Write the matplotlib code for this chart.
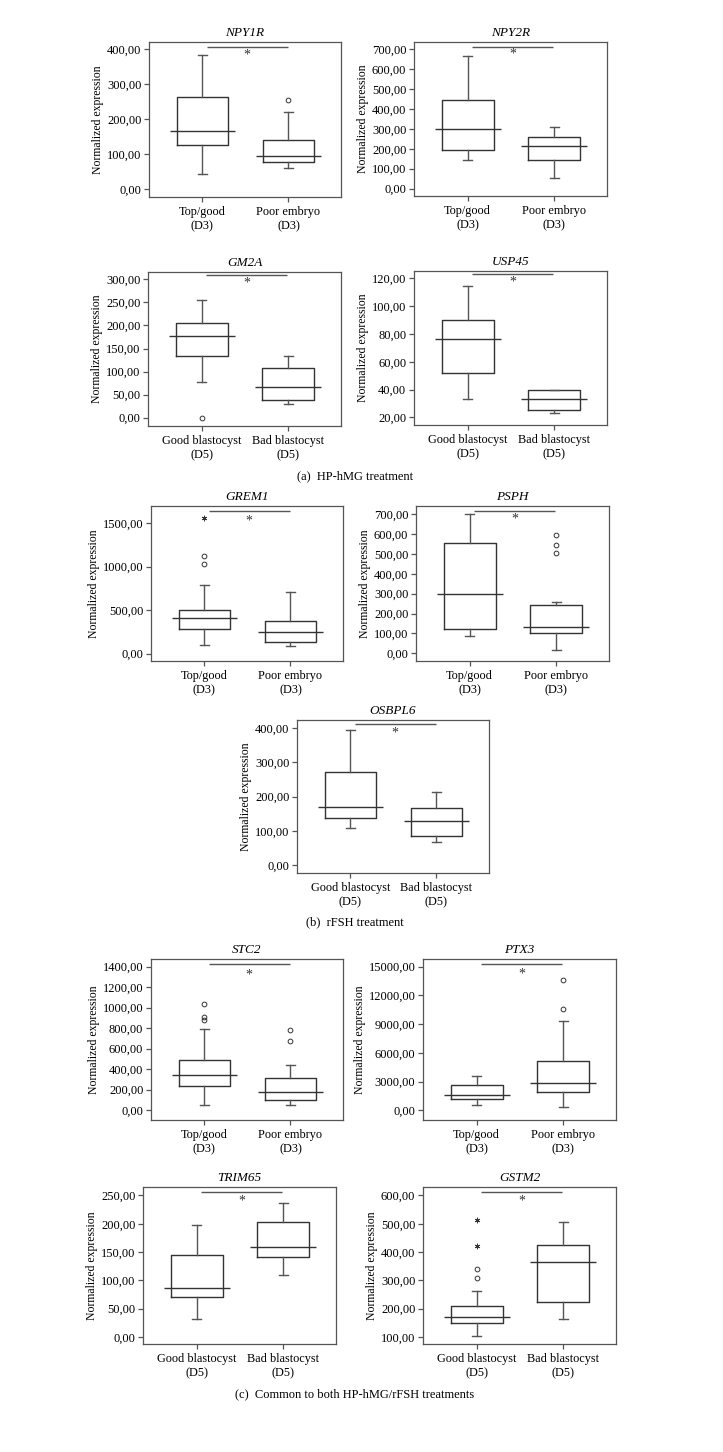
import matplotlib
matplotlib.use("Agg")
import matplotlib.pyplot as plt

plt.rcParams['font.family'] = ['Liberation Serif', 'DejaVu Serif']

# ---------------- data ----------------
genes = ["NPY1R", "NPY2R", "GM2A", "USP45", "GREM1", "PSPH", "OSBPL6",
         "STC2", "PTX3", "TRIM65", "GSTM2"]
d3_labels = ["Top/good\n(D3)", "Poor embryo\n(D3)"]
d5_labels = ["Good blastocyst\n(D5)", "Bad blastocyst\n(D5)"]
group_labels = [d3_labels, d3_labels, d5_labels, d5_labels, d3_labels, d3_labels,
                d5_labels, d3_labels, d3_labels, d5_labels, d5_labels]

whis_hi = [[384, 220], [667, 308], [255, 134], [114.5, 39.4], [787, 710], [700, 259],
           [394, 214], [795, 445], [3620, 9327], [198, 237.6], [264, 505]]
q3s = [[262, 139.5], [447, 261], [204.5, 108], [89.8, 39.4], [499, 380], [554, 241],
       [271.5, 165.5], [490, 318], [2610, 5150], [144.5, 204], [211, 425]]
medians = [[166, 95], [300, 216], [177, 66.5], [76.4, 33], [411, 249], [301, 131],
           [170, 129.4], [341, 175], [1566, 2820], [86, 158.6], [171, 366]]
q1s = [[127, 78], [193, 142], [134, 39], [51.7, 25], [280, 130], [121, 103],
       [137, 85.6], [234, 97], [1183, 1880], [70, 141], [149.5, 223]]
whis_lo = [[42, 59], [146, 55], [76.6, 29], [33.2, 22.9], [104, 92], [89, 17],
           [108, 67], [49, 49], [557, 348], [31.3, 109.7], [102, 163]]
outliers = [[[], [255]], [[], []], [[0], []], [[], []], [[1117, 1032], []],
            [[], [598, 545, 503]], [[], []], [[1039, 906, 875], [779, 679]],
            [[], [13608, 10615]], [[], []], [[339, 308], []]]
extremes = [[[], []], [[], []], [[], []], [[], []], [[1554], []], [[], []], [[], []],
            [[], []], [[], []], [[], []], [[514, 422], []]]

yticks = [[0, 100, 200, 300, 400],
          [0, 100, 200, 300, 400, 500, 600, 700],
          [0, 50, 100, 150, 200, 250, 300],
          [20, 40, 60, 80, 100, 120],
          [0, 500, 1000, 1500],
          [0, 100, 200, 300, 400, 500, 600, 700],
          [0, 100, 200, 300, 400],
          [0, 200, 400, 600, 800, 1000, 1200, 1400],
          [0, 3000, 6000, 9000, 12000, 15000],
          [0, 50, 100, 150, 200, 250],
          [100, 200, 300, 400, 500, 600]]
ylims = [(-23, 420), (-37, 736), (-18, 316), (14.5, 125.3), (-85, 1695), (-39, 742),
         (-23, 424), (-95, 1474), (-1013, 15800), (-12.4, 265), (75, 630)]
sig_line_y = [406, 712, 310, 123, 1639, 719, 411.7, 1422, 15244, 257, 614]
sig_star_y = [390, 687, 299, 119.3, 1554, 689, 395, 1341, 14478, 245, 591]

# axes placement in pixels: (left, top, right, bottom)
boxes_px = [(149, 42, 341, 197), (414, 42, 607, 196),
            (148, 272, 341, 426), (414, 271, 607, 425),
            (151, 506, 343, 661), (416, 506, 609, 661),
            (297, 720, 489, 873),
            (151, 959, 343, 1120), (423, 959, 616, 1120),
            (143, 1187, 336, 1344), (423, 1187, 616, 1344)]

captions = ["(a)  HP-hMG treatment", "(b)  rFSH treatment",
            "(c)  Common to both HP-hMG/rFSH treatments"]
caption_y_px = [476, 922, 1394]

# ---------------- figure ----------------
W, H = 723, 1452
fig = plt.figure(figsize=(W / 100, H / 100), dpi=100)
fig.patch.set_facecolor("white")

line_col = "#333333"
spine_col = "#555555"

for i, g in enumerate(genes):
    l, t, r, b = boxes_px[i]
    ax = fig.add_axes([l / W, 1 - b / H, (r - l) / W, (b - t) / H])
    stats = []
    for k in range(2):
        stats.append(dict(med=medians[i][k], q1=q1s[i][k], q3=q3s[i][k],
                          whislo=whis_lo[i][k], whishi=whis_hi[i][k],
                          fliers=outliers[i][k]))
    ax.bxp(stats, positions=[0, 1], widths=0.6, capwidths=0.1, showfliers=True,
           boxprops=dict(color=line_col, linewidth=1.0),
           whiskerprops=dict(color="#555555", linewidth=1.0),
           capprops=dict(color="#555555", linewidth=1.0),
           medianprops=dict(visible=False),
           flierprops=dict(marker='o', markerfacecolor='none', markeredgecolor=line_col,
                           markersize=3.4, markeredgewidth=0.7))
    for k in range(2):
        ax.hlines(medians[i][k], k - 0.38, k + 0.38, color=line_col, linewidth=1.0)
        if extremes[i][k]:
            ax.plot([k] * len(extremes[i][k]), extremes[i][k], linestyle='none',
                    marker=(6, 2, 0), markersize=4, color=line_col, markeredgewidth=0.6)
    # significance bar
    ax.hlines(sig_line_y[i], 0.05, 0.99, color="#555555", linewidth=1.0)
    ax.annotate("*", xy=(0.52, sig_star_y[i]), xytext=(0, -4.5),
                textcoords='offset points', ha='center', va='baseline',
                fontsize=10, color=line_col)

    ax.set_xlim(-0.62, 1.61)
    ax.set_ylim(*ylims[i])
    ax.set_yticks(yticks[i])
    ax.set_yticklabels([f"{v:.2f}".replace('.', ',') for v in yticks[i]], fontsize=9)
    ax.set_xticks([0, 1])
    ax.set_xticklabels(group_labels[i], fontsize=8.8, linespacing=1.3)
    ax.tick_params(axis='both', direction='out', length=3.5, width=0.9,
                   color=spine_col, pad=2)
    ax.tick_params(axis='x', pad=3)
    for s in ax.spines.values():
        s.set_color(spine_col)
        s.set_linewidth(0.9)
    ax.set_ylabel("Normalized expression", fontsize=8.5, labelpad=2)
    ax.set_title(g, fontsize=9.5, style='italic', pad=4)

for cap, yp in zip(captions, caption_y_px):
    fig.text(355 / W, 1 - yp / H, cap, ha='center', va='center', fontsize=9)

fig.savefig("out.png", dpi=100, facecolor="white")
